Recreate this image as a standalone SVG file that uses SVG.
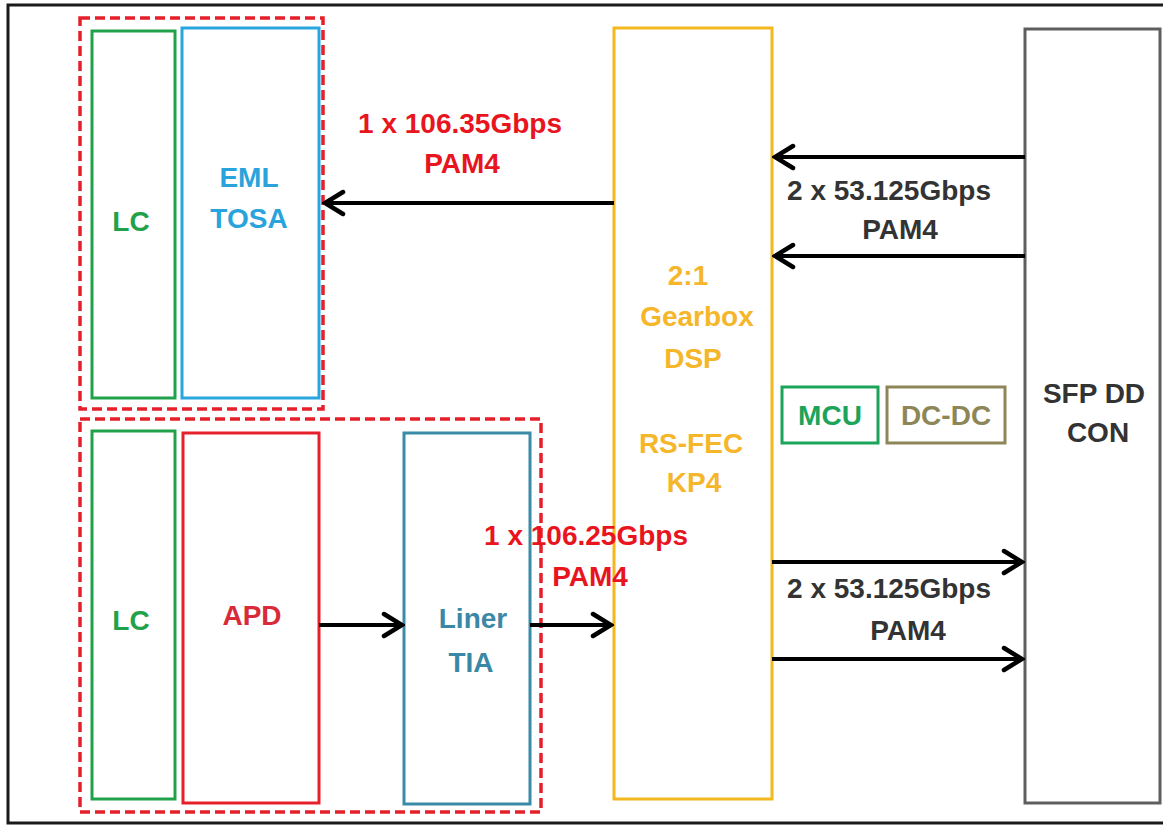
<svg xmlns="http://www.w3.org/2000/svg" width="1163" height="825" viewBox="0 0 1163 825">
  <defs>
    <style>
      text { font-family: "Liberation Sans", Arial, sans-serif; font-weight: bold; font-size: 28px; text-anchor: middle; }
      .box { fill: #ffffff; stroke-width: 3; }
      .dash { fill: none; stroke: #E5202A; stroke-width: 3.5; stroke-dasharray: 10 5; }
      .conn { fill: none; stroke: #000000; stroke-width: 4; }
      .red { fill: #E8141E; }
      .dark { fill: #333333; }
    </style>
    <marker id="arrow" viewBox="0 0 24 28" markerUnits="userSpaceOnUse" markerWidth="24" markerHeight="28" refX="21" refY="14" orient="auto">
      <path d="M3,3 L21,14 L3,25" fill="none" stroke="#000000" stroke-width="4.5" stroke-linecap="round" stroke-linejoin="miter"/>
    </marker>
  </defs>

  <rect width="1163" height="825" fill="#ffffff"/>
  <path d="M1170,5 L8,5 L8,823 L1170,823" fill="none" stroke="#1a1a1a" stroke-width="3"/>

  <g id="tosa-group">
    <rect class="dash" x="80" y="18" width="243" height="391"/>
  </g>
  <g id="lc-tx">
    <rect class="box" x="92" y="31" width="83" height="367" stroke="#21A24A"/>
    <text x="131" y="231" fill="#21A24A">LC</text>
  </g>
  <g id="eml-tosa">
    <rect class="box" x="182" y="28" width="137" height="370" stroke="#29A6E0"/>
    <text x="249" y="187" fill="#29A3DC">EML</text>
    <text x="249" y="228" fill="#29A3DC">TOSA</text>
  </g>

  <g id="rosa-group">
    <rect class="dash" x="80" y="419" width="461" height="393"/>
  </g>
  <g id="lc-rx">
    <rect class="box" x="92" y="431" width="83" height="368" stroke="#21A24A"/>
    <text x="131" y="630" fill="#21A24A">LC</text>
  </g>
  <g id="apd">
    <rect class="box" x="183" y="433" width="136" height="370" stroke="#E5202A"/>
    <text x="252" y="625" fill="#D82A38">APD</text>
  </g>
  <g id="tia">
    <rect class="box" x="404" y="433" width="126" height="371" stroke="#3A8BA8"/>
    <text x="473" y="628" fill="#3A87A6">Liner</text>
    <text x="471" y="672" fill="#3A87A6">TIA</text>
  </g>

  <g id="gearbox">
    <rect class="box" x="614" y="28" width="158" height="771" stroke="#F4B81E"/>
    <text x="688" y="285" fill="#F5B62A">2:1</text>
    <text x="697" y="326" fill="#F5B62A">Gearbox</text>
    <text x="693" y="368" fill="#F5B62A">DSP</text>
    <text x="691" y="453" fill="#F5B62A">RS-FEC</text>
    <text x="694" y="492" fill="#F5B62A">KP4</text>
  </g>

  <g id="mcu">
    <rect class="box" x="782" y="387" width="96" height="56" stroke="#1BA45A"/>
    <text x="830" y="425" fill="#1BA45A">MCU</text>
  </g>
  <g id="dcdc">
    <rect class="box" x="887" y="387" width="118" height="56" stroke="#8D8658"/>
    <text x="946" y="425" fill="#8D8658">DC-DC</text>
  </g>

  <g id="sfp-dd-con">
    <rect class="box" x="1025" y="29" width="135" height="774" stroke="#5E5E5E"/>
    <text x="1094" y="403" class="dark">SFP DD</text>
    <text x="1098" y="442" class="dark">CON</text>
  </g>

  <g id="connectors">
    <path class="conn" d="M614,203 L325,203" marker-end="url(#arrow)"/>
    <path class="conn" d="M1025,157 L775,157" marker-end="url(#arrow)"/>
    <path class="conn" d="M1025,256 L775,256" marker-end="url(#arrow)"/>
    <path class="conn" d="M772,562 L1022,562" marker-end="url(#arrow)"/>
    <path class="conn" d="M772,659 L1022,659" marker-end="url(#arrow)"/>
    <path class="conn" d="M319,625 L402,625" marker-end="url(#arrow)"/>
    <path class="conn" d="M530,625 L611,625" marker-end="url(#arrow)"/>
  </g>

  <g id="labels">
    <text x="460" y="133" class="red">1 x 106.35Gbps</text>
    <text x="462" y="173" class="red">PAM4</text>
    <text x="586" y="545" class="red">1 x 106.25Gbps</text>
    <text x="590" y="586" class="red">PAM4</text>
    <text x="889" y="200" class="dark">2 x 53.125Gbps</text>
    <text x="900" y="239" class="dark">PAM4</text>
    <text x="889" y="598" class="dark">2 x 53.125Gbps</text>
    <text x="908" y="640" class="dark">PAM4</text>
  </g>
</svg>
